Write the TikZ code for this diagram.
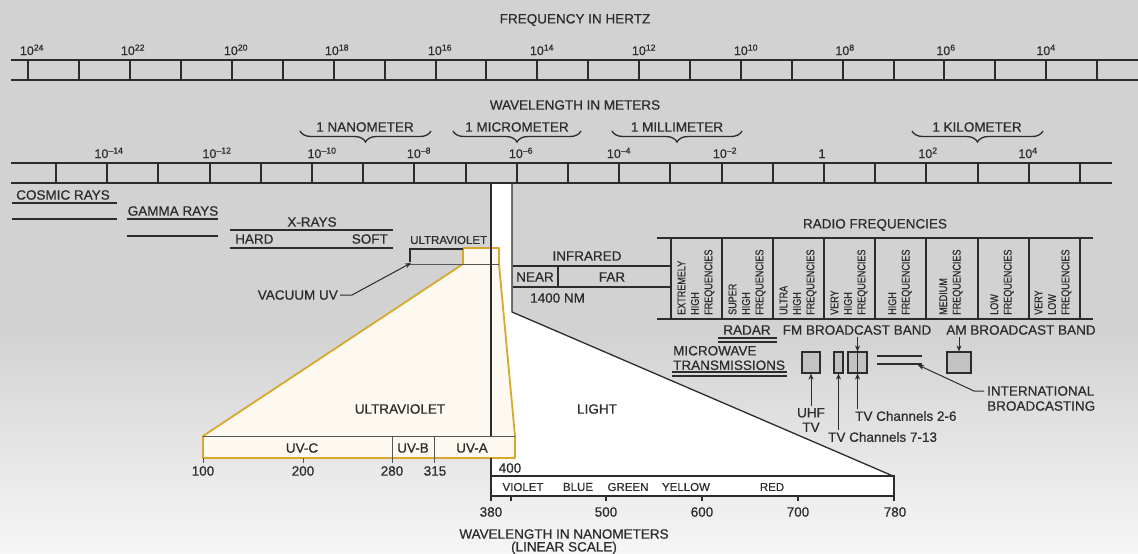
\documentclass[tikz,border=0pt]{standalone}
\usepackage{fontspec}
\setmainfont{Liberation Sans}[FakeBold=0.5]
\newfontfamily\condfont{Liberation Sans}[FakeStretch=0.8, FakeBold=0.4]
\usetikzlibrary{arrows.meta, decorations.pathreplacing}

\definecolor{bggray}{RGB}{210,210,210}
\definecolor{bglight}{RGB}{246,246,246}
\definecolor{ink}{RGB}{44,44,44}
\definecolor{uvyellow}{RGB}{214,168,44}
\definecolor{uvcream}{RGB}{253,249,240}
\definecolor{boxgray}{RGB}{194,194,194}

\begin{document}
\begin{tikzpicture}[x=1pt, y=-1pt,
    ln/.style={draw=ink, line width=1.7pt},
    innerln/.style={draw=ink!80, line width=1pt},
    txt/.style={text=ink, inner sep=0pt, font=\fontsize{13.5}{14.5}\selectfont},
    smalltxt/.style={text=ink, inner sep=0pt, font=\fontsize{11.5}{13}\selectfont},
    powtxt/.style={text=ink, inner sep=0pt, anchor=base, font=\fontsize{12.5}{14}\selectfont},
    bandtxt/.style={text=ink, inner sep=0pt, rotate=90, anchor=west, align=left, font=\condfont\fontsize{11.3}{13.5}\selectfont},
    chanbox/.style={draw=ink, fill=boxgray, line width=1.2pt, inner sep=0pt, minimum height=21pt},
    ptr/.style={draw=ink, line width=1pt, -{Stealth[length=6pt,width=5pt]}},
    nmbrace/.style={draw=ink, line width=1.3pt, decorate, decoration={brace, mirror, amplitude=11pt}}]
  \useasboundingbox (0,0) rectangle (1138,554);
  % background
  \fill[bggray] (0,0) rectangle (1138,330);
  \shade[top color=bggray, bottom color=bglight] (0,329.5) rectangle (1138,554);
  \fill[white] (491,183) -- (512,183) -- (512,312) -- (893,476) -- (491,476) -- cycle;

  % frequency scale
  \node[txt] (freqtitle) at (575,20) {FREQUENCY IN HERTZ};
  \draw[ln] (11,60) -- (1138,60) (11,80) -- (1138,80);
  \draw[ln] (28,60) -- (28,80) (79,60) -- (79,80) (130,60) -- (130,80) (181,60) -- (181,80)
    (232,60) -- (232,80) (283,60) -- (283,80) (334,60) -- (334,80) (385,60) -- (385,80)
    (436,60) -- (436,80) (486,60) -- (486,80) (537,60) -- (537,80) (588,60) -- (588,80)
    (639,60) -- (639,80) (690,60) -- (690,80) (741,60) -- (741,80) (792,60) -- (792,80)
    (843,60) -- (843,80) (894,60) -- (894,80) (944,60) -- (944,80) (995,60) -- (995,80)
    (1046,60) -- (1046,80) (1097,60) -- (1097,80);
  \node[powtxt] (f24) at (32,55) {10\textsuperscript{24}};
  \node[powtxt] (f22) at (133,55) {10\textsuperscript{22}};
  \node[powtxt] (f20) at (236,55) {10\textsuperscript{20}};
  \node[powtxt] (f18) at (337,55) {10\textsuperscript{18}};
  \node[powtxt] (f16) at (440,55) {10\textsuperscript{16}};
  \node[powtxt] (f14) at (542,55) {10\textsuperscript{14}};
  \node[powtxt] (f12) at (644,55) {10\textsuperscript{12}};
  \node[powtxt] (f10) at (746,55) {10\textsuperscript{10}};
  \node[powtxt] (f8) at (845,55) {10\textsuperscript{8}};
  \node[powtxt] (f6) at (946,55) {10\textsuperscript{6}};
  \node[powtxt] (f4) at (1046,55) {10\textsuperscript{4}};

  % wavelength scale
  \node[txt] (wavetitle) at (575,105) {WAVELENGTH IN METERS};
  \node[txt] (nano) at (365,127) {1 NANOMETER};
  \node[txt] (micro) at (517,127) {1 MICROMETER};
  \node[txt] (milli) at (677,127) {1 MILLIMETER};
  \node[txt] (kilo) at (977,127) {1 KILOMETER};
  \draw[nmbrace] (300,131) -- (431,131);
  \draw[nmbrace] (453,131) -- (581,131);
  \draw[nmbrace] (612,131) -- (742,131);
  \draw[nmbrace] (912,131) -- (1043,131);
  \draw[ln] (11,163) -- (1112,163) (11,183) -- (1112,183);
  \draw[ln] (56,163) -- (56,183) (107,163) -- (107,183) (158,163) -- (158,183) (210,163) -- (210,183)
    (261,163) -- (261,183) (312,163) -- (312,183) (363,163) -- (363,183) (414,163) -- (414,183)
    (466,163) -- (466,183) (517,163) -- (517,183) (568,163) -- (568,183) (619,163) -- (619,183)
    (670,163) -- (670,183) (722,163) -- (722,183) (773,163) -- (773,183) (824,163) -- (824,183)
    (875,163) -- (875,183) (926,163) -- (926,183) (978,163) -- (978,183) (1029,163) -- (1029,183)
    (1080,163) -- (1080,183);
  \node[powtxt] (w14) at (109,158) {10\textsuperscript{–14}};
  \node[powtxt] (w12) at (217,158) {10\textsuperscript{–12}};
  \node[powtxt] (w10) at (322,158) {10\textsuperscript{–10}};
  \node[powtxt] (w8) at (419,158) {10\textsuperscript{–8}};
  \node[powtxt] (w6) at (521,158) {10\textsuperscript{–6}};
  \node[powtxt] (w4) at (619,158) {10\textsuperscript{–4}};
  \node[powtxt] (w2) at (725,158) {10\textsuperscript{–2}};
  \node[powtxt] (w0) at (822,158) {1};
  \node[powtxt] (wp2) at (928,158) {10\textsuperscript{2}};
  \node[powtxt] (wp4) at (1028,158) {10\textsuperscript{4}};

  % cosmic, gamma, x-rays
  \node[txt] (cosmic) at (63,195) {COSMIC RAYS};
  \draw[ln] (12,203) -- (117,203) (12,219) -- (117,219);
  \node[txt] (gamma) at (173,211) {GAMMA RAYS};
  \draw[ln] (127,219) -- (218,219) (127,236) -- (218,236);
  \node[txt] (xrays) at (312,222) {X-RAYS};
  \draw[ln] (230,230) -- (393,230) (230,248) -- (393,248);
  \node[txt, anchor=west] (hard) at (235,239) {HARD};
  \node[txt, anchor=east] (soft) at (388,239) {SOFT};

  % ultraviolet blow-up
  \filldraw[fill=uvcream, draw=uvyellow, line width=1.8pt, line join=round] (463,248) -- (499,248) -- (499,264)
    -- (515,436) -- (515,458) -- (203,458) -- (203,436) -- (463,264) -- cycle;
  \draw[innerln] (410,264) -- (499,264);
  \draw[innerln] (203,436) -- (515,436) (392,436) -- (392,458) (434,436) -- (434,458);
  \draw[ink, line width=1.3pt] (491,183) -- (491,436);
  \draw[ink, line width=1.3pt] (512,183) -- (512,312) -- (893,476);
  \draw[ink, line width=1.6pt] (410,262) -- (410,249) -- (463,249);
  \node[smalltxt, anchor=west] (uvtop) at (410,240) {ULTRAVIOLET};
  \node[txt, anchor=east] (vacuum) at (338,295) {VACUUM UV};
  \coordinate (vactip) at (411,263);
  \draw[ptr] ([xshift=2pt]vacuum.east) -- ++(12,0) -- (vactip);
  \node[txt] (uvbig) at (400,409) {ULTRAVIOLET};
  \node[txt] (uvc) at (302,448) {UV-C};
  \node[txt] (uvb) at (413,448) {UV-B};
  \node[txt] (uva) at (472,448) {UV-A};
  \draw[innerln] (203,458) -- (203,463) (303,458) -- (303,463) (392,458) -- (392,463) (434,458) -- (434,463);
  \node[txt] (n100) at (203,471) {100};
  \node[txt] (n200) at (303,471) {200};
  \node[txt] (n280) at (392,471) {280};
  \node[txt] (n315) at (435,471) {315};
  \node[txt] (n400) at (510,468) {400};
  \node[txt] (light) at (597,409) {LIGHT};

  % visible spectrum
  \filldraw[fill=white, draw=ink, line width=1.4pt] (491,476) rectangle (894,496);
  \draw[ink, line width=1.4pt] (491,458) -- (491,501) (894,476) -- (894,501) (511,496) -- (511,501)
    (606,496) -- (606,501) (702,496) -- (702,501) (798,496) -- (798,501);
  \node[smalltxt] (violet) at (523,487) {VIOLET};
  \node[smalltxt] (blue) at (578,487) {BLUE};
  \node[smalltxt] (green) at (628,487) {GREEN};
  \node[smalltxt] (yellow) at (686,487) {YELLOW};
  \node[smalltxt] (red) at (772,487) {RED};
  \node[txt] (n380) at (491,512) {380};
  \node[txt] (n500) at (606,512) {500};
  \node[txt] (n600) at (702,512) {600};
  \node[txt] (n700) at (798,512) {700};
  \node[txt] (n780) at (895,512) {780};
  \node[txt] (nmtitle) at (564,534) {WAVELENGTH IN NANOMETERS};
  \node[txt] (nmscale) at (564,548) {(LINEAR SCALE)};

  % infrared
  \node[txt] (infrared) at (587,256) {INFRARED};
  \draw[ln] (513,266) -- (671,266) (513,287) -- (671,287) (558,266) -- (558,287);
  \node[txt] (near) at (535,277) {NEAR};
  \node[txt] (far) at (612,277) {FAR};
  \node[txt, anchor=west] (nm1400) at (530,298) {1400 NM};

  % radio frequencies
  \node[txt] (radio) at (875,225) {RADIO FREQUENCIES};
  \draw[ln] (657,238) -- (1093,238) (657,319) -- (1093,319);
  \draw[ln] (671,238) -- (671,319) (722,238) -- (722,319) (773,238) -- (773,319) (824,238) -- (824,319)
    (875,238) -- (875,319) (926,238) -- (926,319) (978,238) -- (978,319) (1029,238) -- (1029,319)
    (1080,238) -- (1080,319);
  \node[bandtxt] (ehf) at (696,315) {EXTREMELY\\HIGH\\FREQUENCIES};
  \node[bandtxt] (shf) at (747,315) {SUPER\\HIGH\\FREQUENCIES};
  \node[bandtxt] (uhfband) at (798,315) {ULTRA\\HIGH\\FREQUENCIES};
  \node[bandtxt] (vhfband) at (849,315) {VERY\\HIGH\\FREQUENCIES};
  \node[bandtxt] (hfband) at (900,315) {HIGH\\FREQUENCIES};
  \node[bandtxt] (mfband) at (951,315) {MEDIUM\\FREQUENCIES};
  \node[bandtxt] (lfband) at (1002,315) {LOW\\FREQUENCIES};
  \node[bandtxt] (vlfband) at (1053,315) {VERY\\LOW\\FREQUENCIES};
  \node[txt] (radar) at (747,330) {RADAR};
  \draw[ink, line width=1.3pt] (718,338) -- (777,338) (718,342) -- (777,342);
  \node[txt] (fm) at (857,330) {FM BROADCAST BAND};
  \node[txt] (am) at (1021,330) {AM BROADCAST BAND};
  \node[txt, anchor=west, align=left] (microwave) at (673,358) {MICROWAVE\\TRANSMISSIONS};
  \draw[ink, line width=1.3pt] (672,372) -- (787,372) (672,376) -- (787,376);

  % channels
  \node[chanbox, minimum width=18pt] (uhfbox) at (811,362.5) {};
  \node[chanbox, minimum width=9pt] (vhfhi) at (838.5,362.5) {};
  \node[chanbox, minimum width=19pt] (vhflo) at (857.5,362.5) {};
  \draw[ink, line width=1.2pt] (vhflo.north) -- (vhflo.south);
  \node[chanbox, minimum width=24pt] (ambox) at (959,362.5) {};
  \draw[ln] (877,356) -- (922,356) (877,364) -- (922,364);
  \node[txt, align=center] (uhftv) at (811,420) {UHF\\TV};
  \node[txt, anchor=west] (tv713) at (828,437) {TV Channels 7-13};
  \node[txt, anchor=west] (tv26) at (855,416) {TV Channels 2-6};
  \node[txt, anchor=west] (intl1) at (987,391) {INTERNATIONAL};
  \node[txt, anchor=west] (intl2) at (987,406) {BROADCASTING};
  \coordinate (intltip) at (918,365);
  \draw[ptr] ([yshift=2pt]uhftv.north) -- (uhfbox.south);
  \draw[ptr] ([yshift=2pt]vhfhi.south |- tv713.north) -- (vhfhi.south);
  \draw[ptr] ([yshift=2pt]vhflo.south |- tv26.north) -- (vhflo.south);
  \draw[ptr] ([yshift=-2pt]fm.south -| vhflo.north) -- (vhflo.north);
  \draw[ptr] ([yshift=-2pt]am.south -| ambox.north) -- (ambox.north);
  \draw[ptr] ([xshift=-3pt]intl1.west) -- ++(-10,0) -- (intltip);
\end{tikzpicture}
\end{document}
